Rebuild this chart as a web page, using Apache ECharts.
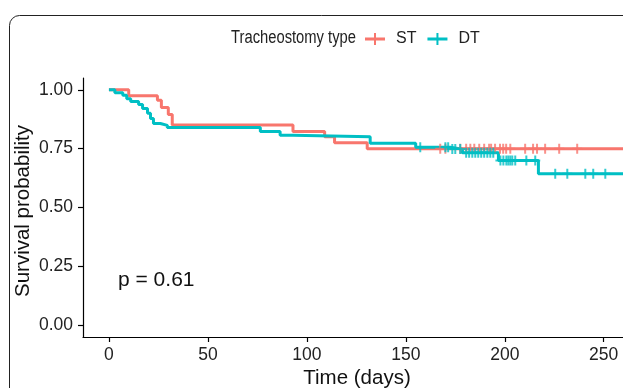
<!DOCTYPE html>
<html>
<head>
<meta charset="utf-8">
<script src="https://cdn.jsdelivr.net/npm/echarts@6/dist/echarts.min.js"></script>
<style>
  html, body { margin: 0; padding: 0; background: #fff; }
  #chart { width: 623px; height: 388px; }
</style>
</head>
<body>
<div id="chart"></div>
<script>
// Kaplan-Meier steps
const stTimes = [0, 10, 24.5, 26.5, 30, 32, 93, 109, 114, 130.5, 262]
const stSurv = [1, 0.975, 0.955, 0.925, 0.895, 0.85, 0.823, 0.8, 0.775, 0.75, 0.75]
const dtTimes = [0, 3, 7, 9, 11, 15, 17, 19.5, 21, 22.5, 26, 29.5, 76.5, 86.5, 93, 132, 155, 172.5, 178.6, 196.8, 217, 262]
const dtSurv = [1, 0.987, 0.977, 0.962, 0.95, 0.937, 0.92, 0.9, 0.878, 0.857, 0.849, 0.84, 0.823, 0.807, 0.8, 0.773, 0.756, 0.748, 0.732, 0.7, 0.643, 0.643]

// censored times (the + marks)
const stCensor = [167.4, 170, 177.5, 180.5, 182.6, 184.6, 187.1, 189.6, 192.1, 193.1, 195.1, 197.6, 199.2, 200.7, 202.8, 210.3, 214.3, 216.3, 220.4, 227.5, 236.6]
const dtCensor = [157.3, 170, 171.4, 173.5, 175, 177.5, 180.5, 182, 183.6, 185.1, 186.6, 188.1, 189.6, 191.2, 192.7, 194.2, 197.8, 199.3, 200.8, 201.8, 202.8, 203.8, 205.3, 210.9, 215.4, 225.5, 231.6, 240.7, 244.7, 250.8]

const xTicks = [0, 50, 100, 150, 200, 250]
const yTicks = [0, 0.25, 0.5, 0.75, 1]
const groups = ['ST', 'DT']
const colors = ['#F8766D', '#00BFC4']
const pValue = 'p = 0.61'

const FONT = '"Liberation Sans", Arial, sans-serif'

function survAt (times, surv, t) {
  let s = surv[0]
  for (let i = 0; i < times.length; i++) {
    if (times[i] <= t) s = surv[i]
  }
  return s
}

const stepData = (times, surv) => times.map((t, i) => [t, surv[i]])
const censorData = (times, surv, cens) => cens.map((t) => [t, survAt(times, surv, t)])

const plusIcon = 'path://M9,0 L11,0 L11,4.5 L20,4.5 L20,7.5 L11,7.5 L11,12 L9,12 L9,7.5 L0,7.5 L0,4.5 L9,4.5 Z'
const plusMark = 'path://M4,0 L6,0 L6,4 L10,4 L10,6 L6,6 L6,10 L4,10 L4,6 L0,6 L0,4 L4,4 Z'

const chart = echarts.init(document.getElementById('chart'), null, { renderer: 'canvas' })

chart.setOption({
  animation: false,
  backgroundColor: '#fff',
  textStyle: { fontFamily: FONT },
  // plot panel runs past the right edge, as in the cropped original
  grid: { left: 83, top: 78, width: 570.4, height: 259, containLabel: false, outerBoundsMode: 'none' },
  legend: {
    data: groups,
    left: 365,
    top: 31,
    padding: 0,
    itemWidth: 20,
    itemHeight: 12,
    itemGap: 11,
    icon: plusIcon,
    textStyle: { fontSize: 16, fontFamily: FONT, color: '#222', padding: [0, 0, 0, 6] }
  },
  xAxis: {
    type: 'value',
    min: -13.1,
    max: 275.1,
    axisLine: { onZero: false, lineStyle: { color: '#000', width: 1.2 } },
    axisTick: { length: 5, lineStyle: { color: '#000', width: 1.2 }, customValues: xTicks },
    axisLabel: { fontSize: 17.5, color: '#222', margin: 9, customValues: xTicks },
    splitLine: { show: false }
  },
  yAxis: {
    type: 'value',
    min: -0.05,
    max: 1.05,
    axisLine: { show: true, onZero: false, lineStyle: { color: '#000', width: 1.2 } },
    axisTick: { show: true, length: 5, lineStyle: { color: '#000', width: 1.2 }, customValues: yTicks },
    axisLabel: { fontSize: 17.5, color: '#222', margin: 10, customValues: yTicks, formatter: (v) => v.toFixed(2) },
    splitLine: { show: false }
  },
  graphic: [
    {
      type: 'rect',
      z: -10,
      silent: true,
      shape: { x: 9.5, y: 15.5, width: 720, height: 480, r: 10 },
      style: { fill: 'none', stroke: '#222', lineWidth: 1 }
    },
    {
      type: 'text',
      x: 356,
      y: 38,
      scaleX: 0.82,
      style: { text: 'Tracheostomy type', fontSize: 18, fontFamily: FONT, fill: '#222', align: 'right', verticalAlign: 'middle' }
    },
    {
      type: 'text',
      x: 357,
      y: 378,
      style: { text: 'Time (days)', fontSize: 20.5, fontFamily: FONT, fill: '#111', align: 'center', verticalAlign: 'middle' }
    },
    {
      type: 'text',
      x: 23,
      y: 211,
      rotation: Math.PI / 2,
      style: { text: 'Survival probability', fontSize: 20.5, fontFamily: FONT, fill: '#111', align: 'center', verticalAlign: 'middle' }
    },
    {
      type: 'text',
      x: 118,
      y: 280,
      style: { text: pValue, fontSize: 21, fontFamily: FONT, fill: '#111', align: 'left', verticalAlign: 'middle' }
    }
  ],
  series: [
    {
      name: 'ST',
      type: 'line',
      step: 'end',
      data: stepData(stTimes, stSurv),
      showSymbol: false,
      color: colors[0],
      lineStyle: { width: 3, color: colors[0] },
      z: 2
    },
    {
      name: 'DT',
      type: 'line',
      step: 'end',
      data: stepData(dtTimes, dtSurv),
      showSymbol: false,
      color: colors[1],
      lineStyle: { width: 3, color: colors[1] },
      z: 3
    },
    {
      name: 'ST censored',
      type: 'scatter',
      data: censorData(stTimes, stSurv, stCensor),
      symbol: plusMark,
      symbolSize: 10,
      itemStyle: { color: colors[0] },
      z: 4
    },
    {
      name: 'DT censored',
      type: 'scatter',
      data: censorData(dtTimes, dtSurv, dtCensor),
      symbol: plusMark,
      symbolSize: 10,
      itemStyle: { color: colors[1] },
      z: 5
    }
  ]
})
</script>
</body>
</html>
